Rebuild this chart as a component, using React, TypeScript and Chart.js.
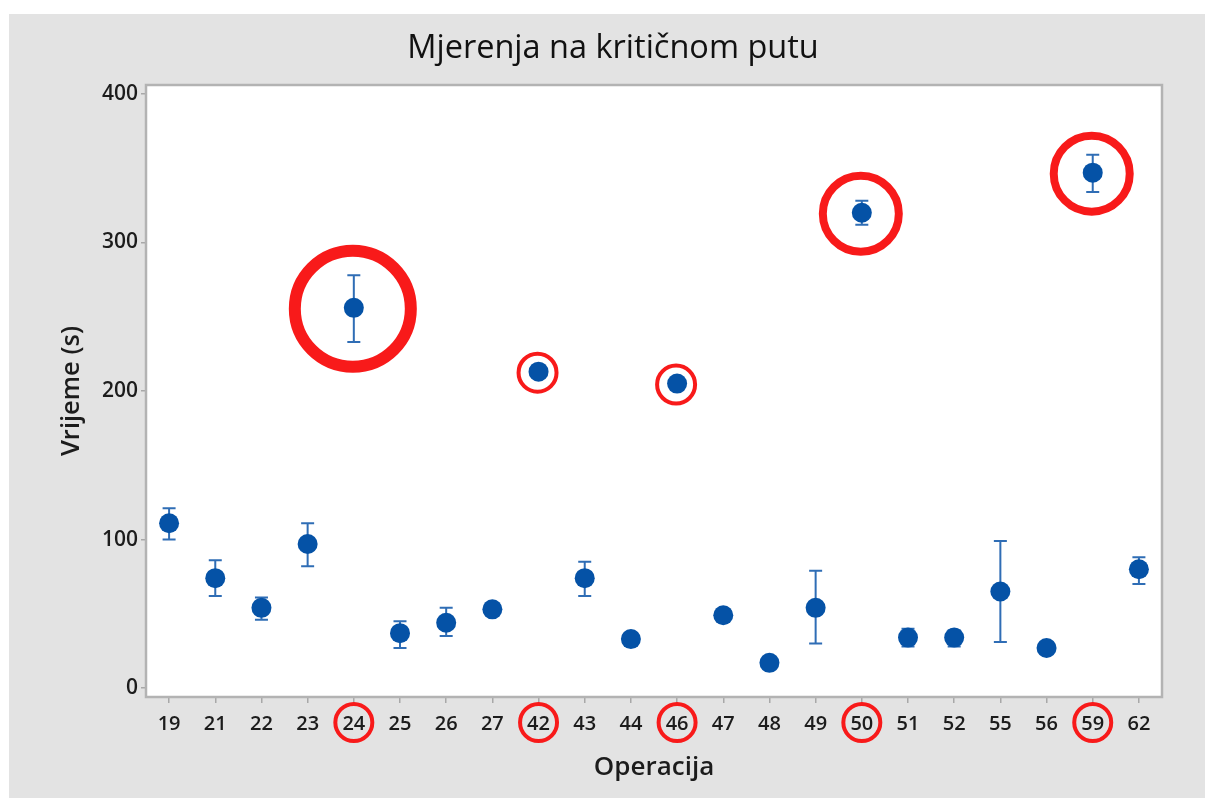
import React, { useEffect, useRef } from 'react';
import { Chart, registerables } from 'chart.js';

Chart.register(...registerables);

// ---- data ----
const categories = ['19', '21', '22', '23', '24', '25', '26', '27', '42', '43', '44', '46', '47', '48', '49', '50', '51', '52', '55', '56', '59', '62'];
const meanValues = [111, 74, 54, 97, 256, 37, 44, 53, 213, 74, 33, 205, 49, 17, 54, 320, 34, 34, 65, 27, 347, 80];
const lowerValues = [100, 62, 46, 82, 233, 27, 35, 50, 211, 62, 31, 203, 47, 16, 30, 312, 28, 28, 31, 25, 334, 70];
const upperValues = [121, 86, 61, 111, 278, 45, 54, 56, 215, 85, 35, 207, 51, 18, 79, 328, 40, 39, 99, 29, 359, 88];
const yTickValues = [0, 100, 200, 300, 400];
const highlightedCategories = ['24', '42', '46', '50', '59'];

const titleText = 'Mjerenja na kritičnom putu';
const xTitleText = 'Operacija';
const yTitleText = 'Vrijeme (s)';

// ---- styles ----
const FONT = "'Open Sans', 'Noto Sans', sans-serif";
const RED = '#f81a1a';
const MARKER = '#0552a6';
const ERRBAR = '#2f6db5';
const TEXT = '#1c1c1c';
const ringStyle: Record<string, { r: number; w: number }> = {
  '24': { r: 58, w: 12 },
  '42': { r: 19, w: 4 },
  '46': { r: 19, w: 4 },
  '50': { r: 38, w: 8 },
  '59': { r: 38, w: 8 },
};

const decorPlugin = {
  id: 'decor',
  beforeDraw(chart: any) {
    const { ctx, chartArea: a, width, height } = chart;
    ctx.save();
    ctx.fillStyle = '#e3e3e3';
    ctx.fillRect(0, 0, width, height);
    ctx.fillStyle = '#ffffff';
    ctx.fillRect(a.left, a.top, a.right - a.left, a.bottom - a.top);
    ctx.restore();
  },
  beforeDatasetsDraw(chart: any) {
    const { ctx, chartArea: a, scales } = chart;
    const y = scales.y;
    ctx.save();
    // frame
    ctx.strokeStyle = '#b3b3b3';
    ctx.lineWidth = 2.5;
    ctx.strokeRect(a.left, a.top, a.right - a.left, a.bottom - a.top);
    // error bars
    const meta = chart.getDatasetMeta(0);
    ctx.strokeStyle = ERRBAR;
    ctx.lineWidth = 2;
    categories.forEach((_, i) => {
      const pt = meta.data[i];
      if (!pt) return;
      const px = pt.x;
      const yl = y.getPixelForValue(lowerValues[i]);
      const yh = y.getPixelForValue(upperValues[i]);
      ctx.beginPath();
      ctx.moveTo(px, yl);
      ctx.lineTo(px, yh);
      ctx.moveTo(px - 6.5, yl);
      ctx.lineTo(px + 6.5, yl);
      ctx.moveTo(px - 6.5, yh);
      ctx.lineTo(px + 6.5, yh);
      ctx.stroke();
    });
    ctx.restore();
  },
  afterDraw(chart: any) {
    const { ctx, scales } = chart;
    const x = scales.x;
    const meta = chart.getDatasetMeta(0);
    ctx.save();
    ctx.strokeStyle = RED;
    highlightedCategories.forEach((c) => {
      const i = categories.indexOf(c);
      const pt = meta.data[i];
      const st = ringStyle[c];
      // ring around point
      ctx.lineWidth = st.w;
      ctx.beginPath();
      ctx.arc(pt.x - 1, pt.y + 1, st.r, 0, Math.PI * 2);
      ctx.stroke();
      // ring around tick label
      const tx = x.getPixelForTick(i);
      const ty = x.top + 6 + 9 + 12 - 1.5;
      ctx.lineWidth = 4;
      ctx.beginPath();
      ctx.arc(tx, ty, 18.5, 0, Math.PI * 2);
      ctx.stroke();
    });
    ctx.restore();
  },
};

export default function App() {
  const canvasRef = useRef<HTMLCanvasElement | null>(null);

  useEffect(() => {
    if (!canvasRef.current) return;
    const chart = new Chart(canvasRef.current, {
      type: 'line',
      data: {
        labels: categories,
        datasets: [
          {
            data: meanValues,
            showLine: false,
            pointRadius: 10,
            pointHoverRadius: 10,
            pointStyle: 'circle',
            pointBackgroundColor: MARKER,
            pointBorderColor: MARKER,
            pointBorderWidth: 0,
          },
        ],
      },
      options: {
        animation: false,
        responsive: true,
        maintainAspectRatio: false,
        events: [],
        layout: { padding: { left: 12, right: 0, top: 0, bottom: 0 } },
        plugins: {
          legend: { display: false },
          tooltip: { enabled: false },
          title: {
            display: true,
            text: titleText,
            color: '#111111',
            font: { family: FONT, size: 32.5, weight: 'normal' as any, lineHeight: 1.2 },
            padding: { top: 15, bottom: 17 },
          },
        },
        scales: {
          x: {
            type: 'category',
            offset: true,
            grid: {
              drawOnChartArea: false,
              drawTicks: true,
              tickLength: 6,
              color: '#a8a8a8',
              lineWidth: 1.5,
              offset: false,
            },
            border: { display: false },
            ticks: {
              color: TEXT,
              font: { family: FONT, size: 20, weight: '600' as any },
              padding: 9,
              maxRotation: 0,
              autoSkip: false,
            },
            title: {
              display: true,
              text: xTitleText,
              color: TEXT,
              font: { family: FONT, size: 26, weight: '600' as any },
              padding: { top: 0, bottom: 15 },
            },
            afterFit(scale: any) {
              scale.height = 101;
            },
          },
          y: {
            type: 'linear',
            min: -6,
            max: 406,
            grid: {
              drawOnChartArea: false,
              drawTicks: true,
              tickLength: 5,
              color: '#a8a8a8',
              lineWidth: 1.5,
            },
            border: { display: false },
            ticks: {
              color: TEXT,
              font: { family: FONT, size: 21, weight: '600' as any },
              padding: 3,
            },
            afterBuildTicks(scale: any) {
              scale.ticks = yTickValues.map((v) => ({ value: v }));
            },
            title: {
              display: true,
              text: yTitleText,
              color: TEXT,
              font: { family: FONT, size: 25.5, weight: '600' as any },
              padding: { top: 35, bottom: 0 },
            },
            afterFit(scale: any) {
              scale.width = 125;
            },
          },
          yRightSpacer: {
            type: 'linear',
            position: 'right',
            display: true,
            grid: { display: false, drawTicks: false },
            border: { display: false },
            ticks: { display: false },
            title: { display: false },
            afterFit(scale: any) {
              scale.width = 43;
            },
          },
        },
      },
      plugins: [decorPlugin],
    });
    return () => chart.destroy();
  }, []);

  return (
    <div style={{ position: 'absolute', left: 9, top: 14, width: 1196, height: 784 }}>
      <canvas ref={canvasRef} />
    </div>
  );
}
